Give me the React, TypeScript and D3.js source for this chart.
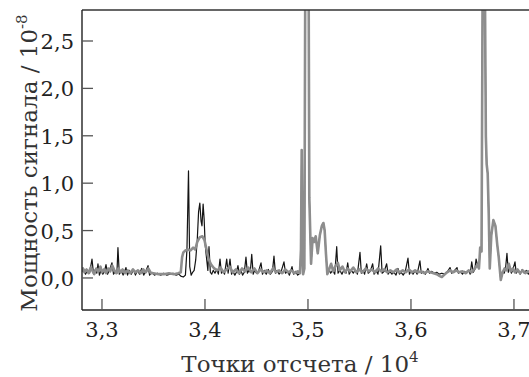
import React from "react";
import * as d3 from "d3";

// Sample index (points) vs. signal power (×10^-8)
const graySeries: [number, number][] = [
  [32800, 0.07], [32815, 0.10], [32830, 0.06], [32850, 0.09], [32870, 0.05], [32890, 0.11],
  [32905, 0.08], [32925, 0.04], [32945, 0.10], [32965, 0.07], [32985, 0.12], [33000, 0.06],
  [33020, 0.09], [33040, 0.05], [33060, 0.10], [33080, 0.07], [33100, 0.13], [33120, 0.08],
  [33140, 0.05], [33160, 0.10], [33180, 0.06], [33200, 0.09], [33225, 0.05], [33250, 0.08],
  [33275, 0.05], [33300, 0.09], [33325, 0.06], [33350, 0.08], [33375, 0.05], [33400, 0.09],
  [33425, 0.06], [33450, 0.10], [33475, 0.05], [33500, 0.05], [33550, 0.04], [33600, 0.04],
  [33650, 0.05], [33700, 0.04], [33740, 0.05], [33765, 0.06], [33778, 0.22], [33790, 0.27],
  [33810, 0.29], [33835, 0.30], [33860, 0.29], [33885, 0.32], [33905, 0.30], [33925, 0.38],
  [33950, 0.43], [33975, 0.44], [33995, 0.40], [34015, 0.30], [34035, 0.20], [34060, 0.14],
  [34090, 0.10], [34120, 0.08], [34150, 0.11], [34180, 0.06], [34210, 0.09], [34240, 0.12],
  [34270, 0.06], [34300, 0.09], [34330, 0.05], [34360, 0.10], [34390, 0.07], [34420, 0.11],
  [34450, 0.06], [34480, 0.10], [34510, 0.05], [34540, 0.09], [34570, 0.06], [34600, 0.08],
  [34630, 0.05], [34660, 0.10], [34690, 0.06], [34720, 0.08], [34750, 0.05], [34780, 0.09],
  [34810, 0.06], [34840, 0.08], [34870, 0.05], [34900, 0.07], [34922, 0.05], [34932, 0.30],
  [34939, 1.35], [34946, 0.30], [34953, 0.04], [34965, 0.10], [34975, 3.6], [35005, 3.6],
  [35013, 0.85], [35030, 0.15], [35045, 0.42], [35060, 0.38], [35075, 0.44], [35095, 0.26],
  [35115, 0.45], [35135, 0.55], [35150, 0.58], [35162, 0.50], [35175, 0.25], [35188, 0.04],
  [35205, 0.09], [35225, 0.15], [35245, 0.07], [35265, 0.12], [35290, 0.16], [35310, 0.08],
  [35335, 0.12], [35360, 0.06], [35385, 0.10], [35410, 0.07], [35440, 0.11], [35470, 0.06],
  [35500, 0.09], [35530, 0.06], [35560, 0.10], [35590, 0.07], [35620, 0.09], [35650, 0.06],
  [35680, 0.10], [35710, 0.07], [35740, 0.09], [35770, 0.06], [35800, 0.08], [35830, 0.06],
  [35860, 0.09], [35890, 0.06], [35920, 0.08], [35950, 0.06], [35980, 0.09], [36010, 0.06],
  [36040, 0.08], [36070, 0.06], [36100, 0.07], [36130, 0.05], [36160, 0.07], [36190, 0.06],
  [36220, 0.05], [36250, 0.04], [36280, 0.02], [36300, 0.01], [36320, 0.03], [36350, 0.06],
  [36380, 0.08], [36410, 0.06], [36440, 0.08], [36470, 0.06], [36500, 0.07], [36530, 0.05],
  [36560, 0.08], [36590, 0.06], [36620, 0.10], [36645, 0.14], [36660, 0.10], [36672, 0.32],
  [36685, 0.28], [36698, 3.6], [36715, 3.6], [36727, 1.5], [36735, 1.2], [36745, 1.1],
  [36755, 0.68], [36765, 0.10], [36780, 0.45], [36800, 0.61], [36820, 0.55], [36838, 0.35],
  [36852, 0.22], [36872, -0.02], [36890, 0.06], [36910, 0.10], [36930, 0.08], [36950, 0.15],
  [36970, 0.07], [36990, 0.10], [37010, 0.06], [37035, 0.09], [37060, 0.05], [37085, 0.08],
  [37110, 0.05], [37135, 0.07], [37160, 0.06],
];

const blackSeries: [number, number][] = [
  [32800, 0.06], [32820, 0.10], [32840, 0.04], [32860, 0.08], [32880, 0.05], [32903, 0.20],
  [32918, 0.04], [32935, 0.09], [32950, 0.05], [32961, 0.15], [32975, 0.03], [32992, 0.08],
  [33008, 0.04], [33024, 0.07], [33039, 0.14], [33054, 0.04], [33075, 0.09], [33097, 0.16],
  [33112, 0.04], [33130, 0.07], [33145, 0.05], [33155, 0.32], [33168, 0.04], [33185, 0.08],
  [33205, 0.03], [33220, 0.07], [33233, 0.11], [33248, 0.03], [33265, 0.08], [33285, 0.04],
  [33305, 0.09], [33325, 0.03], [33345, 0.08], [33365, 0.04], [33385, 0.10], [33405, 0.03],
  [33425, 0.07], [33447, 0.13], [33462, 0.03], [33485, 0.06], [33510, 0.03], [33540, 0.05],
  [33570, 0.03], [33600, 0.05], [33630, 0.03], [33660, 0.04], [33690, 0.05], [33720, 0.03],
  [33745, 0.04], [33765, 0.02], [33790, 0.01], [33810, 0.03], [33825, 0.30], [33840, 1.13],
  [33852, 0.12], [33866, 0.03], [33880, 0.06], [33895, 0.08], [33910, 0.19], [33925, 0.40],
  [33938, 0.70], [33950, 0.79], [33962, 0.60], [33971, 0.55], [33982, 0.78], [33992, 0.62],
  [34002, 0.35], [34017, 0.19], [34028, 0.08], [34039, 0.33], [34052, 0.06], [34065, 0.04],
  [34080, 0.08], [34097, 0.05], [34115, 0.09], [34130, 0.04], [34146, 0.20], [34160, 0.05],
  [34175, 0.07], [34190, 0.04], [34211, 0.20], [34225, 0.05], [34243, 0.20], [34258, 0.04],
  [34270, 0.07], [34290, 0.03], [34305, 0.06], [34320, 0.13], [34335, 0.04], [34350, 0.08],
  [34365, 0.03], [34382, 0.06], [34398, 0.22], [34412, 0.05], [34427, 0.08], [34440, 0.06],
  [34454, 0.25], [34468, 0.04], [34482, 0.08], [34500, 0.05], [34520, 0.07], [34544, 0.16],
  [34558, 0.04], [34575, 0.08], [34595, 0.04], [34615, 0.09], [34635, 0.04], [34655, 0.07],
  [34670, 0.23], [34684, 0.05], [34700, 0.08], [34720, 0.04], [34740, 0.07], [34767, 0.17],
  [34782, 0.05], [34800, 0.07], [34820, 0.03], [34845, 0.12], [34860, 0.04], [34880, 0.07],
  [34900, 0.03], [34922, 0.05], [34932, 0.30], [34939, 1.35], [34946, 0.30], [34953, 0.04],
  [34965, 0.10], [34975, 3.6], [35005, 3.6], [35013, 0.85], [35030, 0.15], [35045, 0.42],
  [35060, 0.38], [35075, 0.44], [35095, 0.26], [35115, 0.45], [35135, 0.55], [35150, 0.58],
  [35162, 0.50], [35175, 0.25], [35188, 0.04], [35205, 0.09], [35220, 0.05], [35240, 0.08],
  [35260, 0.04], [35279, 0.33], [35292, 0.05], [35310, 0.08], [35330, 0.04], [35350, 0.09],
  [35370, 0.05], [35386, 0.16], [35400, 0.04], [35420, 0.08], [35440, 0.05], [35460, 0.09],
  [35480, 0.04], [35505, 0.27], [35518, 0.05], [35534, 0.08], [35550, 0.04], [35570, 0.15],
  [35585, 0.05], [35605, 0.07], [35628, 0.15], [35642, 0.04], [35660, 0.08], [35680, 0.04],
  [35706, 0.34], [35720, 0.05], [35740, 0.07], [35764, 0.15], [35778, 0.04], [35795, 0.07],
  [35815, 0.04], [35835, 0.06], [35855, 0.03], [35874, 0.10], [35888, 0.04], [35905, 0.06],
  [35925, 0.03], [35945, 0.07], [35971, 0.21], [35985, 0.04], [36000, 0.07], [36020, 0.04],
  [36040, 0.08], [36060, 0.04], [36087, 0.18], [36100, 0.05], [36120, 0.07], [36140, 0.04],
  [36165, 0.10], [36180, 0.05], [36200, 0.07], [36225, 0.05], [36250, 0.06], [36275, 0.04],
  [36300, 0.05], [36325, 0.04], [36350, 0.06], [36379, 0.11], [36395, 0.05], [36415, 0.07],
  [36447, 0.11], [36460, 0.05], [36480, 0.07], [36500, 0.04], [36520, 0.07], [36540, 0.05],
  [36560, 0.08], [36575, 0.04], [36590, 0.17], [36605, 0.06], [36620, 0.09], [36632, 0.20],
  [36645, 0.14], [36660, 0.10], [36672, 0.32], [36685, 0.28], [36698, 3.6], [36715, 3.6],
  [36727, 1.5], [36735, 1.2], [36745, 1.1], [36755, 0.68], [36765, 0.10], [36780, 0.45],
  [36800, 0.61], [36820, 0.55], [36838, 0.35], [36852, 0.22], [36872, -0.02], [36890, 0.06],
  [36905, 0.05], [36918, 0.10], [36932, 0.26], [36945, 0.06], [36960, 0.12], [36975, 0.05],
  [36990, 0.09], [37010, 0.17], [37022, 0.05], [37040, 0.08], [37060, 0.04], [37080, 0.09],
  [37100, 0.05], [37120, 0.08], [37140, 0.04], [37160, 0.07],
];

const xTicks = [33000, 34000, 35000, 36000, 37000];
const xTickLabels = ["3,3", "3,4", "3,5", "3,6", "3,7"];
const yTicks = [0, 0.5, 1.0, 1.5, 2.0, 2.5];
const yTickLabels = ["0,0", "0,5", "1,0", "1,5", "2,0", "2,5"];

const W = 529;
const H = 377;
const L = 82;
const R = 529;
const T = 10;
const B = 310;
const FONT = "'DejaVu Serif', serif";

export default function App() {
  const x = d3.scaleLinear().domain([32806, 37146]).range([L, R]);
  const y = d3.scaleLinear().domain([-0.338, 2.827]).range([B, T]);
  const line = d3
    .line<[number, number]>()
    .x((d) => x(d[0]))
    .y((d) => y(d[1]));

  return (
    <svg
      width={W}
      height={H}
      style={{ position: "absolute", left: 0, top: 0, background: "#fff" }}
      fontFamily={FONT}
    >
      <defs>
        <clipPath id="plotClip">
          <rect x={L} y={T} width={R - L} height={B - T} />
        </clipPath>
      </defs>
      <g clipPath="url(#plotClip)">
        <path d={line(blackSeries) || ""} fill="none" stroke="#141414" strokeWidth={1.2} strokeLinejoin="round" />
        <path d={line(graySeries) || ""} fill="none" stroke="#8d8d8d" strokeWidth={2.6} strokeLinejoin="round" />
      </g>
      {/* frame */}
      <line x1={L} x2={R} y1={T} y2={T} stroke="#333" strokeWidth={1.4} />
      <line x1={L} x2={L} y1={T} y2={B} stroke="#222" strokeWidth={1.4} />
      <line x1={L} x2={R} y1={B} y2={B} stroke="#222" strokeWidth={1.4} />
      {/* y ticks */}
      {yTicks.map((t, i) => (
        <g key={"y" + i}>
          <line x1={L} x2={L + 11} y1={y(t)} y2={y(t)} stroke="#555" strokeWidth={1.3} />
          <text x={74} y={y(t) + 8} textAnchor="end" fontSize={21} fill="#222">
            {yTickLabels[i]}
          </text>
        </g>
      ))}
      {/* x ticks */}
      {xTicks.map((t, i) => (
        <g key={"x" + i}>
          <line x1={x(t)} x2={x(t)} y1={B} y2={B - 11} stroke="#555" strokeWidth={1.3} />
          <text x={x(t)} y={337} textAnchor="middle" fontSize={21} fill="#222">
            {xTickLabels[i]}
          </text>
        </g>
      ))}
      {/* axis titles */}
      <text x={300} y={372} textAnchor="middle" fontSize={23} fill="#333">
        Точки отсчета / 10<tspan dy={-10} fontSize={15}>4</tspan>
      </text>
      <text
        transform="translate(37,163) rotate(-90)"
        textAnchor="middle"
        fontSize={23}
        fill="#333"
      >
        Мощность сигнала / 10<tspan dy={-10} fontSize={15}>-8</tspan>
      </text>
    </svg>
  );
}
